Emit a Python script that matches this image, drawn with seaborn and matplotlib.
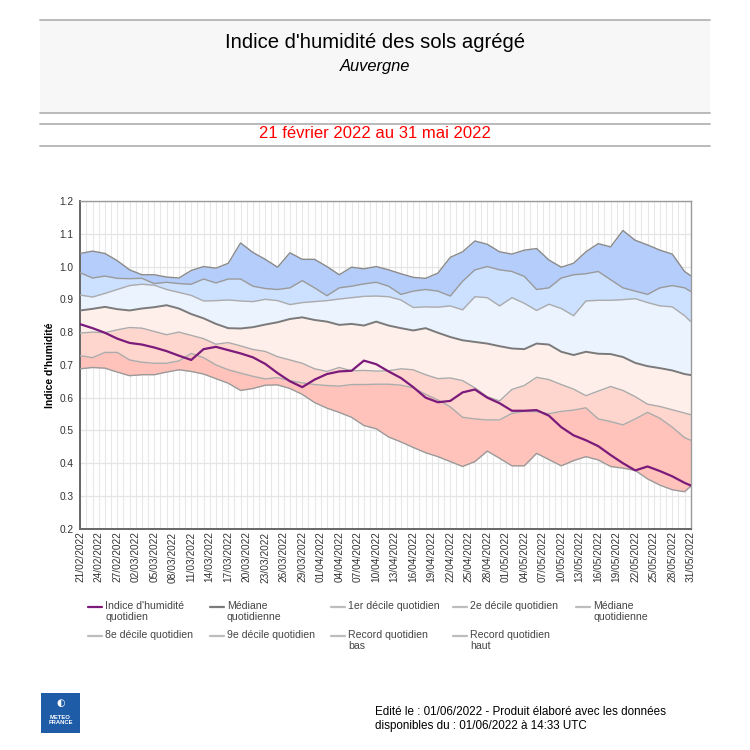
import matplotlib
matplotlib.use("Agg")
import numpy as np
import pandas as pd
import matplotlib.pyplot as plt
import matplotlib.dates as mdates
import seaborn as sns
from matplotlib.lines import Line2D
from matplotlib.patches import Rectangle

# sampling every 2 days from 21/02/2022, plus the last day (31/05/2022)
day_offsets = list(range(0, 99, 2)) + [99]

record_haut = [1.040, 1.047, 1.040, 1.018, 0.990, 0.975, 0.975, 0.968, 0.965, 0.988,
               1.000, 0.995, 1.010, 1.072, 1.043, 1.022, 0.998, 1.042, 1.022, 1.022,
               1.000, 0.975, 0.998, 0.993, 1.000, 0.990, 0.978, 0.967, 0.964, 0.980,
               1.028, 1.045, 1.078, 1.068, 1.045, 1.038, 1.050, 1.055, 1.020, 0.998,
               1.010, 1.045, 1.070, 1.060, 1.110, 1.080, 1.066, 1.050, 1.038, 0.985,
               0.972]
decile_9 = [0.981, 0.965, 0.971, 0.964, 0.963, 0.964, 0.948, 0.952, 0.948, 0.946,
            0.962, 0.950, 0.962, 0.962, 0.940, 0.933, 0.930, 0.935, 0.957, 0.935,
            0.911, 0.935, 0.940, 0.947, 0.952, 0.940, 0.915, 0.925, 0.930, 0.925,
            0.910, 0.955, 0.990, 1.000, 0.990, 0.985, 0.970, 0.930, 0.935, 0.965,
            0.975, 0.978, 0.985, 0.960, 0.935, 0.925, 0.915, 0.935, 0.942, 0.935,
            0.924]
decile_8 = [0.913, 0.907, 0.918, 0.930, 0.942, 0.946, 0.943, 0.930, 0.921, 0.912,
            0.895, 0.896, 0.898, 0.895, 0.893, 0.900, 0.896, 0.884, 0.890, 0.893,
            0.896, 0.901, 0.905, 0.909, 0.910, 0.908, 0.898, 0.875, 0.877, 0.876,
            0.880, 0.868, 0.908, 0.905, 0.880, 0.905, 0.888, 0.866, 0.885, 0.872,
            0.850, 0.895, 0.897, 0.897, 0.899, 0.902, 0.890, 0.880, 0.877, 0.850,
            0.832]
mediane = [0.866, 0.871, 0.877, 0.870, 0.866, 0.872, 0.876, 0.882, 0.872, 0.855,
           0.842, 0.825, 0.812, 0.811, 0.815, 0.823, 0.830, 0.840, 0.845, 0.837,
           0.832, 0.822, 0.825, 0.820, 0.832, 0.820, 0.812, 0.805, 0.812, 0.798,
           0.785, 0.775, 0.770, 0.765, 0.757, 0.750, 0.748, 0.765, 0.762, 0.740,
           0.730, 0.740, 0.734, 0.733, 0.724, 0.706, 0.696, 0.690, 0.683, 0.672,
           0.669]
decile_2 = [0.797, 0.800, 0.798, 0.807, 0.814, 0.812, 0.802, 0.792, 0.800, 0.790,
            0.780, 0.763, 0.768, 0.758, 0.747, 0.741, 0.725, 0.715, 0.705, 0.688,
            0.680, 0.692, 0.682, 0.683, 0.681, 0.682, 0.688, 0.685, 0.670, 0.658,
            0.660, 0.652, 0.630, 0.603, 0.590, 0.625, 0.637, 0.662, 0.655, 0.640,
            0.626, 0.606, 0.620, 0.634, 0.622, 0.603, 0.580, 0.573, 0.563, 0.553,
            0.548]
decile_1 = [0.728, 0.722, 0.738, 0.738, 0.715, 0.708, 0.705, 0.705, 0.712, 0.735,
            0.722, 0.700, 0.685, 0.675, 0.665, 0.657, 0.661, 0.652, 0.645, 0.640,
            0.637, 0.635, 0.640, 0.640, 0.641, 0.641, 0.638, 0.630, 0.610, 0.593,
            0.572, 0.540, 0.535, 0.532, 0.532, 0.552, 0.558, 0.557, 0.551, 0.558,
            0.562, 0.569, 0.535, 0.527, 0.517, 0.535, 0.555, 0.537, 0.510, 0.478,
            0.470]
record_bas = [0.688, 0.692, 0.690, 0.678, 0.667, 0.670, 0.670, 0.678, 0.685, 0.680,
              0.672, 0.658, 0.644, 0.622, 0.628, 0.638, 0.639, 0.628, 0.610, 0.585,
              0.568, 0.555, 0.540, 0.515, 0.505, 0.480, 0.465, 0.448, 0.432, 0.420,
              0.405, 0.390, 0.405, 0.437, 0.415, 0.392, 0.392, 0.430, 0.411, 0.392,
              0.408, 0.420, 0.410, 0.390, 0.385, 0.378, 0.352, 0.333, 0.319, 0.313,
              0.330]
indice = [0.824, 0.812, 0.798, 0.780, 0.767, 0.762, 0.753, 0.742, 0.728, 0.715,
          0.748, 0.755, 0.745, 0.735, 0.723, 0.703, 0.675, 0.650, 0.632, 0.655,
          0.672, 0.680, 0.682, 0.713, 0.702, 0.680, 0.660, 0.632, 0.600, 0.586,
          0.590, 0.616, 0.625, 0.600, 0.583, 0.560, 0.560, 0.562, 0.545, 0.510,
          0.485, 0.470, 0.452, 0.425, 0.400, 0.378, 0.390, 0.376, 0.360, 0.340,
          0.332]

start = pd.Timestamp("2022-02-21")
end = pd.Timestamp("2022-05-31")
df = pd.DataFrame({
    "date": start + pd.to_timedelta(day_offsets, unit="D"),
    "record_bas": record_bas, "decile_1": decile_1, "decile_2": decile_2,
    "mediane": mediane, "decile_8": decile_8, "decile_9": decile_9,
    "record_haut": record_haut, "indice": indice,
})

sns.set_theme(style="white")
plt.rcParams["font.family"] = ["Liberation Sans", "DejaVu Sans"]

fig = plt.figure(figsize=(7.5, 7.5), dpi=100)
ax = fig.add_axes([0.107, 0.295, 0.814, 0.437])

bands = [
    ("record_bas", "decile_1", "#ffc3bb"),
    ("decile_1", "decile_2", "#ffd6ce"),
    ("decile_2", "mediane", "#ffefeb"),
    ("mediane", "decile_8", "#ebf3ff"),
    ("decile_8", "decile_9", "#cce0ff"),
    ("decile_9", "record_haut", "#b4cdfa"),
]
for lo, hi, col in bands:
    ax.fill_between(df["date"], df[lo], df[hi], color=col, lw=0, zorder=2)

edges = [
    ("record_bas", "#9a9a9a", 1.0),
    ("decile_1", "#ababab", 1.0),
    ("decile_2", "#ababab", 1.0),
    ("mediane", "#7a7a7a", 1.4),
    ("decile_8", "#ababab", 1.0),
    ("decile_9", "#9a9a9a", 1.0),
    ("record_haut", "#8a8a8a", 1.0),
]
for name, col, lw in edges:
    sns.lineplot(data=df, x="date", y=name, color=col, lw=lw, ax=ax, zorder=3)
sns.lineplot(data=df, x="date", y="indice", color="#7b1a7b", lw=1.6, ax=ax, zorder=4)

# axes
tick_dates = pd.date_range(start, end, freq="3D")
all_days = pd.date_range(start, end, freq="D")
ax.set_xlim(mdates.date2num(start), mdates.date2num(end))
ax.set_xticks(mdates.date2num(tick_dates))
ax.set_xticklabels([d.strftime("%d/%m/%Y") for d in tick_dates], rotation=90,
                   fontsize=7.3, color="#333333")
ax.set_xticks(mdates.date2num(all_days), minor=True)
ax.set_ylim(0.2, 1.2)
ax.set_yticks(np.arange(0.2, 1.21, 0.1))
ax.set_yticklabels([f"{v:.1f}" for v in np.arange(0.2, 1.21, 0.1)], fontsize=7.3, color="#333333")
ax.grid(which="both", axis="x", color="#e8e8e8", lw=0.8, zorder=0)
ax.grid(which="major", axis="y", color="#e4e4e4", lw=0.9, zorder=0)
ax.set_axisbelow(True)
ax.tick_params(axis="y", which="major", length=3, width=0.8, color="#666666", pad=2)
ax.tick_params(axis="x", which="major", length=0, pad=2)
ax.tick_params(axis="x", which="minor", length=0)
ax.set_xlabel("")
ax.set_ylabel("Indice d'humidité", fontsize=7.5, fontweight="bold", color="black", labelpad=3)
for side in ["top", "right"]:
    ax.spines[side].set_color("#9a9a9a")
    ax.spines[side].set_linewidth(1.0)
for side in ["left", "bottom"]:
    ax.spines[side].set_color("#666666")
    ax.spines[side].set_linewidth(1.4)

# header
W = 750.0
def fy(py):
    return 1 - py / W

fig.patches.append(Rectangle((40 / W, fy(113)), 670 / W, 93 / W, transform=fig.transFigure,
                             facecolor="#f7f7f7", edgecolor="none", zorder=0))
for py in [20, 113, 124, 146]:
    fig.add_artist(Line2D([40 / W, 710 / W], [fy(py), fy(py)], color="#b4b4b4", lw=1.3))
fig.text(0.5, fy(43), "Indice d'humidité des sols agrégé", ha="center", va="center",
         fontsize=14.6, color="black")
fig.text(0.5, fy(66), "Auvergne", ha="center", va="center", fontsize=11.9, style="italic",
         color="black")
fig.text(0.5, fy(133), "21 février 2022 au 31 mai 2022", ha="center", va="center",
         fontsize=12, color="#ff0000")

# legend
legend_items = [
    (88, 607, "#7b1a7b", "Indice d'humidité\nquotidien"),
    (210, 607, "#7a7a7a", "Médiane\nquotidienne"),
    (331, 607, "#bdbdbd", "1er décile quotidien"),
    (453, 607, "#bdbdbd", "2e décile quotidien"),
    (576, 607, "#bdbdbd", "Médiane\nquotidienne"),
    (88, 636, "#bdbdbd", "8e décile quotidien"),
    (210, 636, "#bdbdbd", "9e décile quotidien"),
    (331, 636, "#bdbdbd", "Record quotidien\nbas"),
    (453, 636, "#bdbdbd", "Record quotidien\nhaut"),
]
for px, py, col, label in legend_items:
    fig.add_artist(Line2D([px / W, (px + 14) / W], [fy(py), fy(py)], color=col, lw=1.6))
    fig.text((px + 17) / W, fy(py - 6), label, ha="left", va="top", fontsize=7.6,
             color="#444444", linespacing=1.15)

# footer
fig.patches.append(Rectangle((41 / W, fy(733)), 39 / W, 40 / W, transform=fig.transFigure,
                             facecolor="#1f5ca8", edgecolor="none", zorder=1))
fig.text(60.5 / W, fy(703), "\u25d0", ha="center", va="center", fontsize=7, color="white",
         family=["DejaVu Sans"])
fig.text(60.5 / W, fy(720), "METEO\nFRANCE", ha="center", va="center", fontsize=4.2,
         color="white", fontweight="bold", linespacing=1.1)
fig.text(375 / W, fy(719), "Edité le : 01/06/2022 - Produit élaboré avec les données\n"
         "disponibles du : 01/06/2022 à 14:33 UTC", ha="left", va="center", fontsize=8.4,
         color="black", linespacing=1.15)

fig.savefig("out.png", dpi=100)
